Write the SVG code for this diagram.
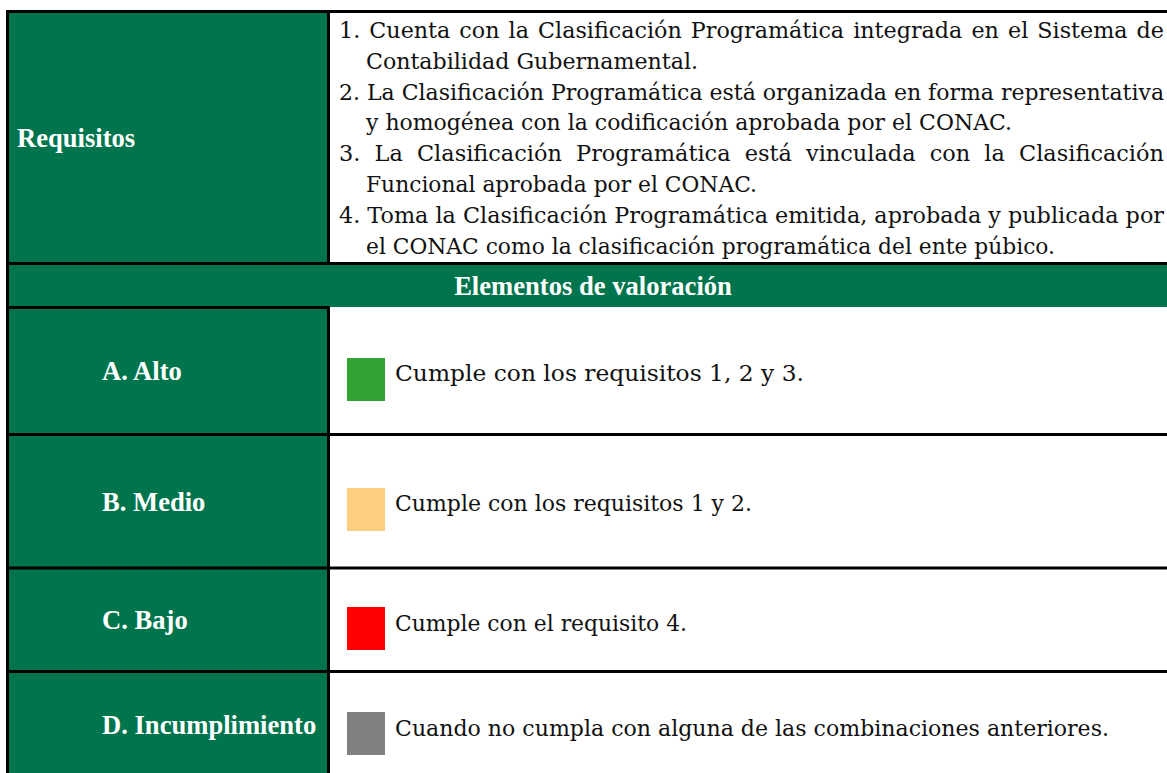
<svg xmlns="http://www.w3.org/2000/svg" width="1167" height="773" viewBox="0 0 1167 773">
  <style>
    .g { fill: #00744D; }
    .ln { stroke: #000; stroke-width: 3; fill: none; }
    .lbl { font-family: "Liberation Serif", "Times New Roman", serif; font-weight: bold; font-size: 26.6px; fill: #fff; }
    .txt { font-family: "DejaVu Serif", "Liberation Serif", serif; font-size: 22.4px; fill: #111; }
  </style>
  <rect width="1167" height="773" fill="#fff"/>

  <g id="requisitos">
    <rect class="g" x="9" y="13" width="319" height="250"/>
    <text class="lbl" x="17" y="147">Requisitos</text>
    <text class="txt" x="339" y="38" textLength="825" lengthAdjust="spacingAndGlyphs" word-spacing="2">1. Cuenta con la Clasificación Programática integrada en el Sistema de</text>
    <text class="txt" x="366" y="69" textLength="332" lengthAdjust="spacingAndGlyphs">Contabilidad Gubernamental.</text>
    <text class="txt" x="339" y="99.5" textLength="825" lengthAdjust="spacingAndGlyphs">2. La Clasificación Programática está organizada en forma representativa</text>
    <text class="txt" x="366" y="130" textLength="646" lengthAdjust="spacingAndGlyphs">y homogénea con la codificación aprobada por el CONAC.</text>
    <text class="txt" x="339" y="161" textLength="825" lengthAdjust="spacingAndGlyphs" word-spacing="7">3. La Clasificación Programática está vinculada con la Clasificación</text>
    <text class="txt" x="366" y="192" textLength="391" lengthAdjust="spacingAndGlyphs">Funcional aprobada por el CONAC.</text>
    <text class="txt" x="339" y="223" textLength="825" lengthAdjust="spacingAndGlyphs">4. Toma la Clasificación Programática emitida, aprobada y publicada por</text>
    <text class="txt" x="366" y="254" textLength="689" lengthAdjust="spacingAndGlyphs">el CONAC como la clasificación programática del ente púbico.</text>
  </g>

  <g id="header">
    <rect class="g" x="9" y="265" width="1158" height="42"/>
    <text class="lbl" x="593" y="295" text-anchor="middle">Elementos de valoración</text>
  </g>

  <g id="alto">
    <rect class="g" x="9" y="309" width="319" height="124"/>
    <text class="lbl" x="102" y="380">A. Alto</text>
    <rect x="347" y="358" width="38" height="43" fill="#33A333"/>
    <text class="txt" x="395" y="381" textLength="409" lengthAdjust="spacingAndGlyphs">Cumple con los requisitos 1, 2 y 3.</text>
  </g>

  <g id="medio">
    <rect class="g" x="9" y="436" width="319" height="131"/>
    <text class="lbl" x="102" y="511">B. Medio</text>
    <rect x="347" y="488" width="38" height="43" fill="#FCCF80"/>
    <text class="txt" x="395" y="511" textLength="357" lengthAdjust="spacingAndGlyphs">Cumple con los requisitos 1 y 2.</text>
  </g>

  <g id="bajo">
    <rect class="g" x="9" y="569" width="319" height="101"/>
    <text class="lbl" x="102" y="629">C. Bajo</text>
    <rect x="347" y="607" width="38" height="43" fill="#FF0000"/>
    <text class="txt" x="395" y="630.5" textLength="292" lengthAdjust="spacingAndGlyphs">Cumple con el requisito 4.</text>
  </g>

  <g id="incumplimiento">
    <rect class="g" x="9" y="673" width="319" height="100"/>
    <text class="lbl" x="102" y="734">D. Incumplimiento</text>
    <rect x="347" y="712" width="38" height="43" fill="#808080"/>
    <text class="txt" x="395" y="735.5" textLength="714" lengthAdjust="spacingAndGlyphs">Cuando no cumpla con alguna de las combinaciones anteriores.</text>
  </g>

  <g id="connectors">
    <line class="ln" x1="6" y1="11.5" x2="1167" y2="11.5"/>
    <line class="ln" x1="7.5" y1="10" x2="7.5" y2="773"/>
    <line class="ln" x1="328.5" y1="10" x2="328.5" y2="265"/>
    <line class="ln" x1="328.5" y1="306" x2="328.5" y2="773"/>
    <line class="ln" x1="6" y1="263.5" x2="1167" y2="263.5"/>
    <line class="ln" x1="6" y1="307.5" x2="330" y2="307.5"/>
    <line class="ln" x1="6" y1="434.5" x2="1167" y2="434.5"/>
    <line class="ln" x1="6" y1="568" x2="1167" y2="568"/>
    <line class="ln" x1="6" y1="671.5" x2="1167" y2="671.5"/>
  </g>
</svg>
